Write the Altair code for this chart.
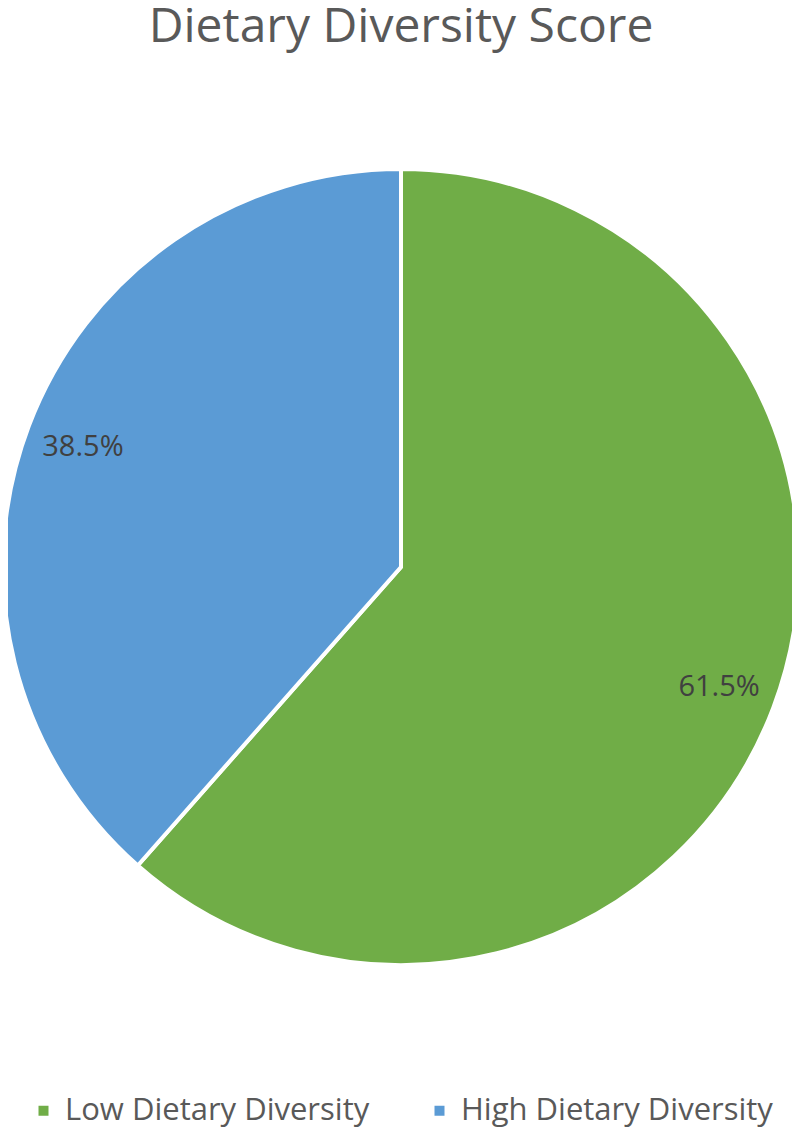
import altair as alt
import pandas as pd

title_text = "Dietary Diversity Score"
categories = ["Low Dietary Diversity", "High Dietary Diversity"]
values = [61.5, 38.5]
labels = ["61.5%", "38.5%"]
colors = ["#70AD47", "#5B9BD5"]

df = pd.DataFrame({"cat": categories, "val": values, "lab": labels, "ord": [0, 1]})

FONT = "Open Sans"
cx, cy = 393, 559

base = alt.Chart(df).encode(
    theta=alt.Theta("val:Q", stack=True),
    order=alt.Order("ord:Q"),
)

pie = base.mark_arc(outerRadius=398, stroke="white", strokeWidth=4).encode(
    x=alt.value(cx), y=alt.value(cy),
    color=alt.Color("cat:N", scale=alt.Scale(domain=categories, range=colors),
                    legend=alt.Legend(orient="none", direction="horizontal",
                                      legendX=20, legendY=1087, title=None,
                                      symbolType="square", symbolSize=100,
                                      symbolOffset=0, labelOffset=6,
                                      labelFont=FONT, labelFontSize=31,
                                      labelColor="#595959", columnPadding=54,
                                      labelLimit=500, symbolStrokeWidth=0)),
)

text = base.mark_text(radius=340, font=FONT, fontSize=29, color="#404040").encode(
    x=alt.value(cx), y=alt.value(cy),
    text="lab:N",
)

title = alt.Chart(pd.DataFrame({"t": [title_text]})).mark_text(
    font=FONT, fontSize=48, color="#595959", baseline="alphabetic", align="center"
).encode(x=alt.value(cx), y=alt.value(34), text="t:N")

chart = (pie + text + title).properties(
    width=784, height=1120,
    autosize=alt.AutoSizeParams(type="none"),
    padding=0,
).configure_view(stroke=None)

chart.save("out.html", embed_options={"renderer": "svg", "actions": False})
